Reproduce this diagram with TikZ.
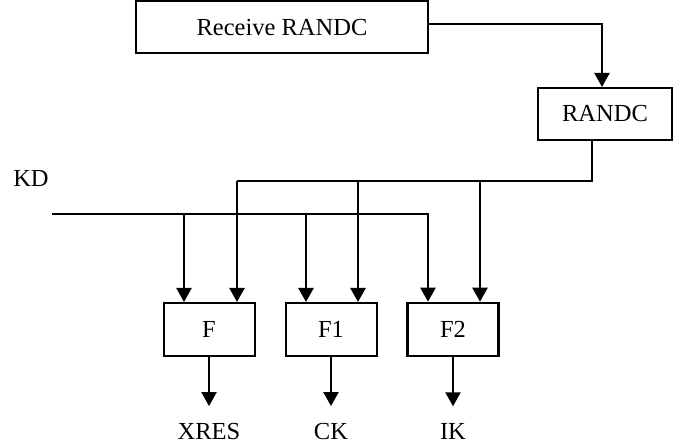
\documentclass[tikz,border=0pt]{standalone}
\usepackage{fontspec}
\setmainfont{Liberation Serif}
\usetikzlibrary{arrows.meta}
\begin{document}
\begin{tikzpicture}[x=1pt,y=1pt,
  every node/.style={font=\fontsize{24.5}{29}\selectfont},
  box/.style={draw, line width=2pt, minimum height=52pt, inner sep=0pt},
  lbl/.style={inner sep=0pt},
  wire/.style={line width=2.3pt},
  arr/.style={line width=2.3pt, -{Triangle[width=15pt,length=14pt]}}]
\useasboundingbox (0,0) rectangle (683,-446);
% boxes
\node[box, minimum width=292pt] (recv) at (282,-27.5) {Receive RANDC};
\node[box, minimum width=134pt] (randc) at (605,-114) {RANDC};
\node[box, minimum width=91pt, minimum height=53pt] (f) at (209,-329.5) {F};
\node[box, minimum width=91pt, minimum height=53pt] (f1) at (331,-329.5) {F1};
\node[box, minimum width=91pt, minimum height=53pt, line width=2.6pt] (f2) at (453,-329.5) {F2};
% labels
\node[lbl] (kd) at (31,-179) {KD};
\node[lbl] (xres) at (209,-431.5) {XRES};
\node[lbl] (ck) at (331,-431.5) {CK};
\node[lbl] (ik) at (453,-431.5) {IK};
% junction coordinates
\coordinate (top) at (602,-24);
\coordinate (rbot) at (592,-181);
\coordinate (busL) at (237,-181);
\coordinate (bus1) at (358,-181);
\coordinate (bus2) at (480,-181);
\coordinate (kdstart) at (52,-214);
\coordinate (kdend) at (428,-214);
\coordinate (kd0) at (184,-214);
\coordinate (kd1) at (306,-214);
% connectors
\draw[arr] (recv.east |- top) -| (randc.north -| top);
\draw[wire] (randc.south -| rbot) -- (rbot) -- (busL);
\draw[arr] (busL) -- (f.north -| busL);
\draw[arr] (bus1) -- (f1.north -| bus1);
\draw[arr] (bus2) -- (f2.north -| bus2);
\draw[arr] (kdstart) -- (kdend) -- (f2.north -| kdend);
\draw[arr] (kd0) -- (f.north -| kd0);
\draw[arr] (kd1) -- (f1.north -| kd1);
\draw[arr] (f.south) -- ([yshift=17pt]xres.north);
\draw[arr] (f1.south) -- ([yshift=17pt]ck.north);
\draw[arr] (f2.south) -- ([yshift=17pt]ik.north);
\end{tikzpicture}
\end{document}
